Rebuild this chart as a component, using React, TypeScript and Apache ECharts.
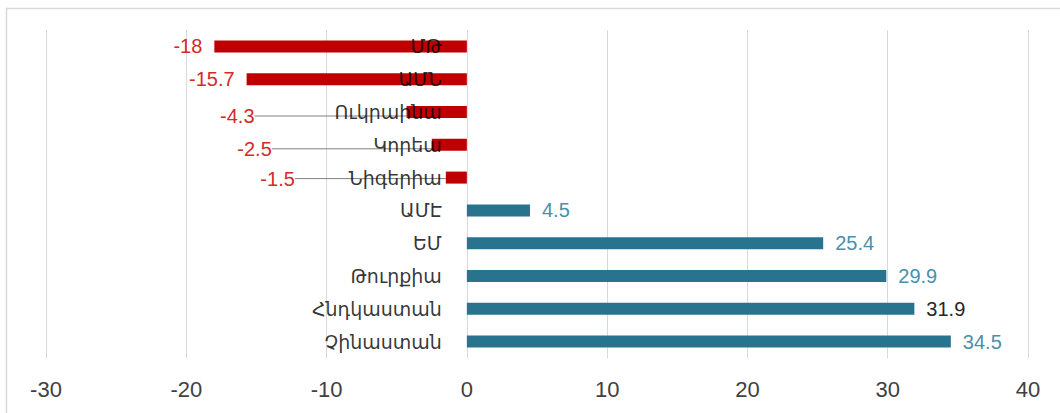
import React, { useEffect, useRef } from "react";
import * as echarts from "echarts";

const categories = ["ՄԹ", "ԱՄՆ", "Ուկրաինա", "Կորեա", "Նիգերիա", "ԱՄԷ", "ԵՄ", "Թուրքիա", "Հնդկաստան", "Չինաստան"];
const values = [-18, -15.7, -4.3, -2.5, -1.5, 4.5, 25.4, 29.9, 31.9, 34.5];
const xTicks = [-30, -20, -10, 0, 10, 20, 30, 40];

const RED = "#c00000";
const TEAL = "#28748f";
const RED_LABEL = "#d42a2a";
const TEAL_LABEL = "#4a8fab";

// label offsets for small negative bars (moved with leader line)
const movedLabels: Record<number, { dx: number; dy: number }> = {
  2: { dx: -140, dy: 4 },
  3: { dx: -148, dy: 4 },
  4: { dx: -139, dy: 1 },
};

export default function App() {
  const ref = useRef<HTMLDivElement>(null);
  useEffect(() => {
    if (!ref.current) return;
    const chart = echarts.init(ref.current, undefined, { renderer: "svg" });
    chart.setOption({
      animation: false,
      grid: { left: 46, right: 32, top: 30, bottom: 55, containLabel: false, outerBoundsMode: "none" },
      graphic: [
        {
          type: "rect",
          shape: { x: 6.5, y: 8.5, width: 1100, height: 500 },
          style: { fill: "none", stroke: "#d9d9d9", lineWidth: 1.5 },
          silent: true,
        },
      ],
      xAxis: {
        type: "value",
        min: xTicks[0],
        max: xTicks[xTicks.length - 1],
        interval: 10,
        axisLine: { show: false },
        axisTick: { show: false },
        splitLine: { show: true, lineStyle: { color: "#d9d9d9", width: 1 } },
        axisLabel: {
          color: "#404040",
          fontFamily: "Liberation Sans",
          fontSize: 22,
          margin: 20,
        },
      },
      yAxis: {
        type: "category",
        data: categories,
        inverse: true,
        axisLine: { show: false },
        axisTick: { show: false },
        axisLabel: { show: false },
      },
      series: [
        {
          type: "bar",
          barWidth: 12,
          data: values.map((v, i) => ({
            value: v,
            itemStyle: { color: v < 0 ? RED : TEAL },
            label: {
              color: v < 0 ? RED_LABEL : i === 8 ? "#262626" : TEAL_LABEL,
            },
            labelLine: movedLabels[i]
              ? { show: true, lineStyle: { color: "#808080", width: 1 } }
              : { show: false },
          })),
          label: {
            show: true,
            position: "outside",
            fontFamily: "Liberation Sans",
            fontSize: 20,
            distance: 12,
            formatter: (p: any) => String(p.value),
          },
          labelLayout: (params: any) => {
            const m = movedLabels[params.dataIndex];
            if (m) return { dx: m.dx, dy: m.dy };
            return {};
          },
        },
        {
          type: "scatter",
          z: 10,
          symbolSize: 0,
          silent: true,
          data: categories.map((c) => [0, c]),
          label: {
            show: true,
            position: "left",
            distance: 25,
            color: "#000000",
            fontFamily: "DejaVu Sans",
            fontSize: 19,
            formatter: (p: any) => p.value[1],
          },
        },
      ],
    });
    return () => chart.dispose();
  }, []);
  return (
    <div
      ref={ref}
      style={{ position: "fixed", left: 0, top: 0, width: 1060, height: 413, background: "#fff" }}
    />
  );
}
